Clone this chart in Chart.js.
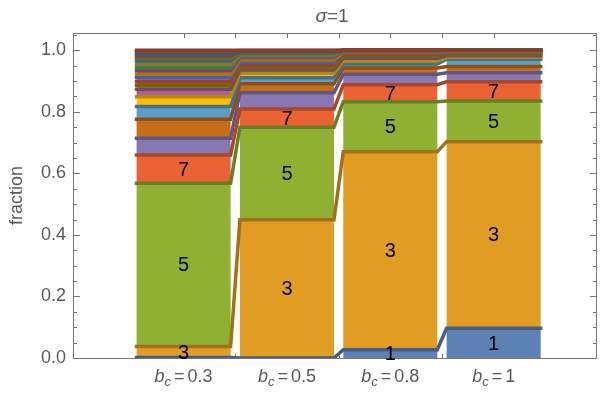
<!DOCTYPE html>
<html>
<head>
<meta charset="UTF-8">
<title>sigma = 1</title>
<script src="https://cdn.jsdelivr.net/npm/chart.js"></script>
<style>
  html, body { margin: 0; padding: 0; background: #fff; }
</style>
</head>
<body>
<canvas id="fracChart" width="600" height="394"></canvas>
<script>
// b_c values, one stacked bar each
const bcValues = ['0.3', '0.5', '0.8', '1'];
// cluster sizes, one segment each (bottom to top)
const sizes = [1, 3, 5, 7, 9, 11, 13, 15, 17, 19, 21, 23, 25, 27, 29, 31, 33, 35, 37, 39, 41, 43];
// fraction per size
const frac03 = [0.002, 0.035, 0.531, 0.092, 0.054, 0.062, 0.041, 0.032, 0.024, 0.013, 0.012,
                0.013, 0.011, 0.011, 0.010, 0.011, 0.011, 0.008, 0.009, 0.008, 0.007, 0.003];
const frac05 = [0.0, 0.449, 0.301, 0.059, 0.053, 0.029, 0.020, 0.014, 0.011, 0.007, 0.009,
                0.008, 0.009, 0.007, 0.005, 0.004, 0.004, 0.003, 0.003, 0.002, 0.002, 0.001];
const frac08 = [0.027, 0.643, 0.163, 0.055, 0.034, 0.020, 0.013, 0.011, 0.008, 0.007, 0.006,
                0.004, 0.003, 0.002, 0.002, 0.001, 0.001, 0, 0, 0, 0, 0];
const frac1  = [0.097, 0.606, 0.132, 0.063, 0.029, 0.020, 0.024, 0.006, 0.005, 0.004, 0.004,
                0.003, 0.003, 0.002, 0.001, 0.001, 0, 0, 0, 0, 0, 0];
const yTicks = [0, 0.2, 0.4, 0.6, 0.8, 1.0];

// Mathematica-like default colours
const palette = ['#5E81B5', '#E19C24', '#8FB032', '#EB6235', '#8778B3', '#C56E1A', '#5D9EC7',
  '#FFBF00', '#A5609D', '#929600', '#E95536', '#6685D9', '#F89F13', '#BC5B80', '#47B66D',
  '#C99E35', '#4E8FA6', '#8A9A2E', '#9F5B8C', '#4F7CA6', '#8B8B20', '#C4553A'];

const FONT = 'Liberation Sans, Arial, sans-serif';
const TEXT = '#5a5a5a';
const FRAME = '#777';
const HALF = 0.455; // half bar width in category units

function darker(hex, f) {
  const n = parseInt(hex.slice(1), 16);
  const r = Math.round(((n >> 16) & 255) * f), g = Math.round(((n >> 8) & 255) * f), b = Math.round((n & 255) * f);
  return `rgb(${r},${g},${b})`;
}

const columns = [frac03, frac05, frac08, frac1];
// running sums per bar
const cum = columns.map(col => {
  let s = 0;
  return col.map(v => { const lo = s; s += v; return [lo, s]; });
});

const datasets = [];
sizes.forEach((size, k) => {
  datasets.push({
    type: 'bar',
    label: 'n=' + size,
    data: bcValues.map((b, i) => ({ x: i + 1, y: cum[i][k] })),
    backgroundColor: palette[k % palette.length],
    borderWidth: 0,
    grouped: false,
    categoryPercentage: 1,
    barPercentage: HALF * 2,
    order: 200
  });
});
sizes.forEach((size, k) => {
  const pts = [];
  bcValues.forEach((b, i) => {
    pts.push({ x: i + 1 - HALF, y: cum[i][k][1] });
    pts.push({ x: i + 1 + HALF, y: cum[i][k][1] });
  });
  datasets.push({
    type: 'line',
    label: 'edge ' + size,
    data: pts,
    borderColor: darker(palette[k % palette.length], 0.72),
    borderWidth: 3.5,
    pointRadius: 0,
    tension: 0,
    fill: false,
    borderJoinStyle: 'miter',
    borderCapStyle: 'square',
    order: 100 - k
  });
});

const decorations = {
  id: 'decorations',
  beforeDatasetsDraw(chart) {
    const { ctx, chartArea: a, scales: { x, y } } = chart;
    ctx.save();
    ctx.strokeStyle = FRAME;
    ctx.lineWidth = 1;
    ctx.strokeRect(Math.round(a.left) + 0.5, Math.round(a.top) + 0.5,
                   Math.round(a.right - a.left) - 1, Math.round(a.bottom - a.top));
    ctx.beginPath();
    for (let i = 0; i <= 21; i++) {
      const v = i * 0.05;
      const py = Math.round(y.getPixelForValue(v)) + 0.5;
      const len = (i % 4 === 0) ? 7 : 4;
      ctx.moveTo(a.left, py); ctx.lineTo(a.left + len, py);
      ctx.moveTo(a.right, py); ctx.lineTo(a.right - len, py);
    }
    for (let v = 1; v <= 4; v += 0.5) {
      const px = Math.round(x.getPixelForValue(v)) + 0.5;
      ctx.moveTo(px, a.top); ctx.lineTo(px, a.top + 5);
      ctx.moveTo(px, a.bottom); ctx.lineTo(px, a.bottom - 4);
    }
    ctx.stroke();
    ctx.restore();
  },
  afterDatasetsDraw(chart) {
    const { ctx, chartArea: a, scales: { x, y } } = chart;
    ctx.save();
    // numbers inside the first four segments
    ctx.fillStyle = '#000';
    ctx.font = '20px ' + FONT;
    ctx.textAlign = 'center';
    ctx.textBaseline = 'middle';
    bcValues.forEach((b, i) => {
      for (let k = 0; k < 4; k++) {
        const [lo, hi] = cum[i][k];
        if (hi - lo < 0.005) continue;
        ctx.fillText(String(sizes[k]), x.getPixelForValue(i + 1), y.getPixelForValue((lo + hi) / 2) + 1);
      }
    });
    // category labels  b_c = value
    ctx.fillStyle = TEXT;
    ctx.textAlign = 'left';
    ctx.textBaseline = 'alphabetic';
    bcValues.forEach((b, i) => {
      const parts = [
        { t: 'b', f: 'italic 18px ' + FONT, dy: 0, gap: 0 },
        { t: 'c', f: 'italic 13px ' + FONT, dy: 4, gap: 3 },
        { t: '=', f: '18px ' + FONT, dy: 0, gap: 3 },
        { t: b, f: '18px ' + FONT, dy: 0, gap: 0 }
      ];
      let w = 0;
      parts.forEach(p => { ctx.font = p.f; p.w = ctx.measureText(p.t).width; w += p.w + p.gap; });
      let px = x.getPixelForValue(i + 1) - w / 2;
      parts.forEach(p => { ctx.font = p.f; ctx.fillText(p.t, px, 382 + p.dy); px += p.w + p.gap; });
    });
    // title
    const cx = (a.left + a.right) / 2 - 3;
    ctx.font = 'italic 19px ' + FONT;
    const sw = ctx.measureText('σ').width;
    ctx.font = '19px ' + FONT;
    const rw = ctx.measureText('=1').width;
    let tx = cx - (sw + rw) / 2;
    ctx.font = 'italic 19px ' + FONT;
    ctx.fillText('σ', tx, 22);
    ctx.font = '19px ' + FONT;
    ctx.fillText('=1', tx + sw, 22);
    // y axis title
    ctx.translate(17, (a.top + a.bottom) / 2);
    ctx.rotate(-Math.PI / 2);
    ctx.textAlign = 'center';
    ctx.textBaseline = 'middle';
    ctx.font = '18px ' + FONT;
    ctx.fillText('fraction', 0, 0);
    ctx.restore();
  }
};

new Chart(document.getElementById('fracChart').getContext('2d'), {
  data: { datasets: datasets },
  options: {
    responsive: false,
    animation: false,
    layout: { padding: { left: 0, right: 3, top: 33, bottom: 36 } },
    plugins: { legend: { display: false }, tooltip: { enabled: false } },
    scales: {
      x: {
        type: 'linear', min: -0.07, max: 5.0, offset: false,
        grid: { display: false, drawTicks: false, offset: false },
        border: { display: false },
        ticks: { display: false },
        afterFit: s => { s.height = 0; }
      },
      y: {
        type: 'linear', min: 0, max: 1.056,
        grid: { display: false, drawTicks: false },
        border: { display: false },
        afterBuildTicks: s => { s.ticks = yTicks.map(v => ({ value: v })); },
        ticks: {
          padding: 7,
          color: TEXT,
          font: { family: FONT, size: 18 },
          callback: v => v.toFixed(1)
        },
        afterFit: s => { s.width = 73; }
      }
    }
  },
  plugins: [decorations]
});
</script>
</body>
</html>
